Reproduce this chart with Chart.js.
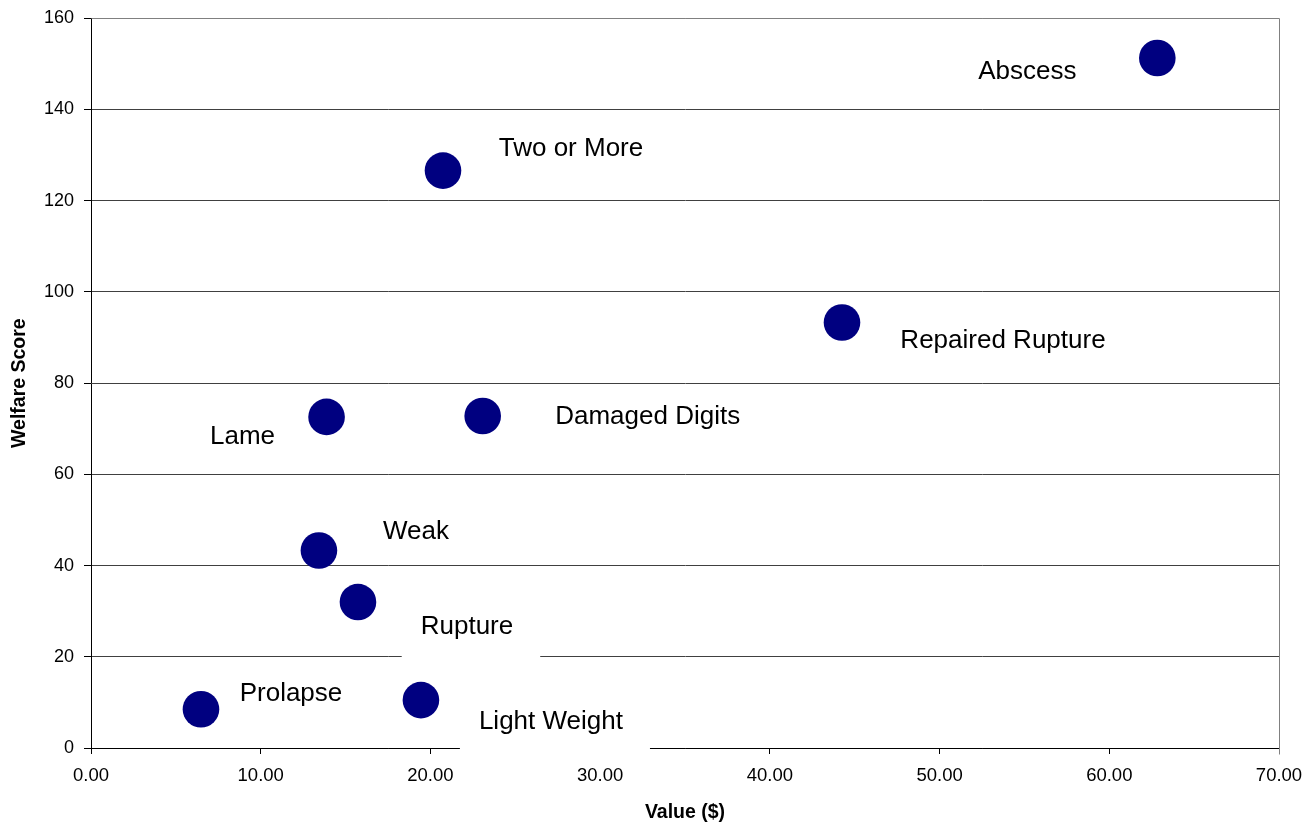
<!DOCTYPE html>
<html>
<head>
<meta charset="utf-8">
<script src="https://cdn.jsdelivr.net/npm/chart.js@4.4.0/dist/chart.umd.min.js"></script>
<style>
  html, body { margin: 0; padding: 0; background: #ffffff; }
  #wrap { width: 1314px; height: 829px; }
  canvas { display: block; }
</style>
</head>
<body>
<div id="wrap"><canvas id="chart" width="1314" height="829"></canvas></div>
<script>
// Condition categories with their cost and welfare score
const categories = ['Abscess', 'Two or More', 'Repaired Rupture', 'Lame', 'Damaged Digits', 'Weak', 'Rupture', 'Prolapse', 'Light Weight'];
const valueDollars = [62.83, 20.74, 44.25, 13.88, 23.08, 13.43, 15.73, 6.48, 19.44];
const welfareScores = [151.3, 126.6, 93.3, 72.6, 72.8, 43.3, 32.0, 8.5, 10.5];

// Axis ticks
const xTickValues = [0, 10, 20, 30, 40, 50, 60, 70];
const xTickLabels = ['0.00', '10.00', '20.00', '30.00', '40.00', '50.00', '60.00', '70.00'];
const yTickValues = [0, 20, 40, 60, 80, 100, 120, 140, 160];
const yTickLabels = ['0', '20', '40', '60', '80', '100', '120', '140', '160'];

// Where each name sits relative to its marker (pixel offset of the text centre)
const labelOffsets = [[-130, 14], [128, -22], [161, 18], [-84, 20], [165, 1], [97, -19], [109, 25], [90, -15], [130, 22]];

const FONT = "'Liberation Sans', Arial, sans-serif";

// Name labels drawn in white boxes next to the markers
const pointNames = {
  id: 'pointNames',
  afterDatasetsDraw(chart) {
    const ctx = chart.ctx;
    const meta = chart.getDatasetMeta(0);
    ctx.save();
    ctx.font = '26px ' + FONT;
    ctx.textAlign = 'center';
    ctx.textBaseline = 'middle';
    meta.data.forEach((pt, i) => {
      const cx = pt.x + labelOffsets[i][0];
      const cy = pt.y + labelOffsets[i][1];
      const w = ctx.measureText(categories[i]).width;
      ctx.fillStyle = '#ffffff';
      ctx.fillRect(cx - w / 2 - 19, cy - 28, w + 46, 61);
      ctx.fillStyle = '#000000';
      ctx.fillText(categories[i], cx, cy);
    });
    ctx.restore();
  }
};

// Grey frame on the top and right of the plot area
const plotFrame = {
  id: 'plotFrame',
  beforeDatasetsDraw(chart) {
    const { ctx, chartArea: a } = chart;
    ctx.save();
    ctx.strokeStyle = '#808080';
    ctx.lineWidth = 1;
    ctx.beginPath();
    ctx.moveTo(Math.round(a.left) + 0.5, Math.round(a.top) + 0.5);
    ctx.lineTo(Math.round(a.right) + 0.5, Math.round(a.top) + 0.5);
    ctx.lineTo(Math.round(a.right) + 0.5, Math.round(a.bottom) + 6.5);
    ctx.stroke();
    ctx.restore();
  }
};

new Chart(document.getElementById('chart'), {
  type: 'scatter',
  data: {
    datasets: [{
      label: 'Welfare Score',
      data: valueDollars.map((v, i) => ({ x: v, y: welfareScores[i] })),
      backgroundColor: '#000080',
      borderColor: '#000080',
      borderWidth: 0,
      pointRadius: 18.3,
      pointHoverRadius: 18.3
    }]
  },
  options: {
    responsive: false,
    animation: false,
    events: [],
    layout: { padding: { top: 16, right: 35, left: 0, bottom: 0 } },
    plugins: {
      legend: { display: false },
      tooltip: { enabled: false }
    },
    scales: {
      x: {
        type: 'linear',
        min: 0,
        max: 70,
        afterFit(scale) { scale.height = 81; },
        afterBuildTicks(scale) { scale.ticks = xTickValues.map(v => ({ value: v })); },
        ticks: {
          callback: (v, i) => xTickLabels[i],
          color: '#000000',
          font: { family: FONT, size: 18.5 },
          padding: 11,
          maxRotation: 0,
          autoSkip: false
        },
        grid: { drawOnChartArea: false, drawTicks: true, tickLength: 6, tickColor: '#000000', color: '#000000' },
        border: { display: true, color: '#000000', width: 1 },
        title: {
          display: true,
          text: 'Value ($)',
          color: '#000000',
          font: { family: FONT, size: 19.5, weight: 'bold' },
          padding: { top: 0, bottom: 5 }
        }
      },
      y: {
        type: 'linear',
        min: 0,
        max: 160,
        afterFit(scale) {
          scale.width = 91;
          scale.paddingTop = 0;
          scale.paddingBottom = 0;
        },
        afterBuildTicks(scale) { scale.ticks = yTickValues.map(v => ({ value: v })); },
        ticks: {
          callback: (v, i) => yTickLabels[i],
          color: '#000000',
          font: { family: FONT, size: 18 },
          padding: 10,
          autoSkip: false
        },
        grid: {
          drawOnChartArea: true,
          drawTicks: true,
          tickLength: 7,
          tickColor: '#000000',
          color: (c) => (c.tick && c.tick.value === 160 ? '#808080' : '#404040')
        },
        border: { display: true, color: '#000000', width: 1 },
        title: {
          display: true,
          text: 'Welfare Score',
          color: '#000000',
          font: { family: FONT, size: 19.5, weight: 'bold' },
          padding: { top: 8, bottom: 0 }
        }
      }
    }
  },
  plugins: [plotFrame, pointNames]
});
</script>
</body>
</html>
